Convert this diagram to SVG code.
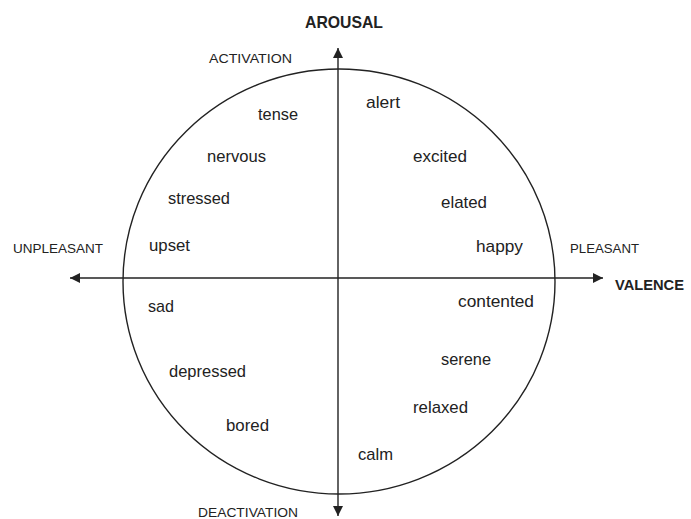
<svg xmlns="http://www.w3.org/2000/svg" width="691" height="519" viewBox="0 0 691 519">
<style>
  text { font-family: "Liberation Sans", Arial, sans-serif; fill: #222; }
  .w { font-size: 17px; }
  .c { font-size: 13px; }
  .b { font-size: 17px; font-weight: bold; }
  .ax { stroke: #222; stroke-width: 1.4; fill: none; }
</style>
<defs>
  <marker id="ah" viewBox="0 0 10 10" refX="10" refY="5" markerWidth="10" markerHeight="10" markerUnits="userSpaceOnUse" orient="auto">
    <path d="M0,0 L10,5 L0,10 Z" fill="#222"/>
  </marker>
</defs>
<rect width="691" height="519" fill="#fff"/>
<g id="circle">
  <ellipse cx="339" cy="281.5" rx="216" ry="212.5" class="ax"/>
</g>
<g id="connectors">
  <line x1="338" y1="278" x2="338" y2="48" class="ax" marker-end="url(#ah)"/>
  <line x1="338" y1="278" x2="338" y2="516" class="ax" marker-end="url(#ah)"/>
  <line x1="338" y1="278" x2="70" y2="278" class="ax" marker-end="url(#ah)"/>
  <line x1="338" y1="278" x2="603" y2="278" class="ax" marker-end="url(#ah)"/>
</g>
<g id="arousal"><text class="b" x="305" y="28" textLength="78" lengthAdjust="spacingAndGlyphs">AROUSAL</text></g>
<g id="valence"><text class="b" x="615" y="290" style="font-size:15px" textLength="69" lengthAdjust="spacingAndGlyphs">VALENCE</text></g>
<g id="activation"><text class="c" x="209" y="63" textLength="83" lengthAdjust="spacingAndGlyphs">ACTIVATION</text></g>
<g id="deactivation"><text class="c" x="198" y="517" textLength="100" lengthAdjust="spacingAndGlyphs">DEACTIVATION</text></g>
<g id="unpleasant"><text class="c" x="13" y="253" textLength="90" lengthAdjust="spacingAndGlyphs">UNPLEASANT</text></g>
<g id="pleasant"><text class="c" x="570" y="253" textLength="69" lengthAdjust="spacingAndGlyphs">PLEASANT</text></g>
<g id="tense"><text class="w" x="258" y="120" textLength="40" lengthAdjust="spacingAndGlyphs">tense</text></g>
<g id="alert"><text class="w" x="366" y="108" textLength="34" lengthAdjust="spacingAndGlyphs">alert</text></g>
<g id="nervous"><text class="w" x="207" y="162" textLength="59" lengthAdjust="spacingAndGlyphs">nervous</text></g>
<g id="excited"><text class="w" x="413" y="162" textLength="54" lengthAdjust="spacingAndGlyphs">excited</text></g>
<g id="stressed"><text class="w" x="168" y="204" textLength="62" lengthAdjust="spacingAndGlyphs">stressed</text></g>
<g id="elated"><text class="w" x="441" y="208" textLength="46" lengthAdjust="spacingAndGlyphs">elated</text></g>
<g id="upset"><text class="w" x="149" y="251" textLength="41" lengthAdjust="spacingAndGlyphs">upset</text></g>
<g id="happy"><text class="w" x="476" y="252" textLength="47" lengthAdjust="spacingAndGlyphs">happy</text></g>
<g id="sad"><text class="w" x="148" y="312" textLength="26" lengthAdjust="spacingAndGlyphs">sad</text></g>
<g id="contented"><text class="w" x="458" y="307" textLength="76" lengthAdjust="spacingAndGlyphs">contented</text></g>
<g id="serene"><text class="w" x="441" y="365" textLength="50" lengthAdjust="spacingAndGlyphs">serene</text></g>
<g id="depressed"><text class="w" x="169" y="377" textLength="77" lengthAdjust="spacingAndGlyphs">depressed</text></g>
<g id="relaxed"><text class="w" x="413" y="413" textLength="55" lengthAdjust="spacingAndGlyphs">relaxed</text></g>
<g id="bored"><text class="w" x="226" y="431" textLength="43" lengthAdjust="spacingAndGlyphs">bored</text></g>
<g id="calm"><text class="w" x="358" y="460" textLength="35" lengthAdjust="spacingAndGlyphs">calm</text></g>
</svg>
